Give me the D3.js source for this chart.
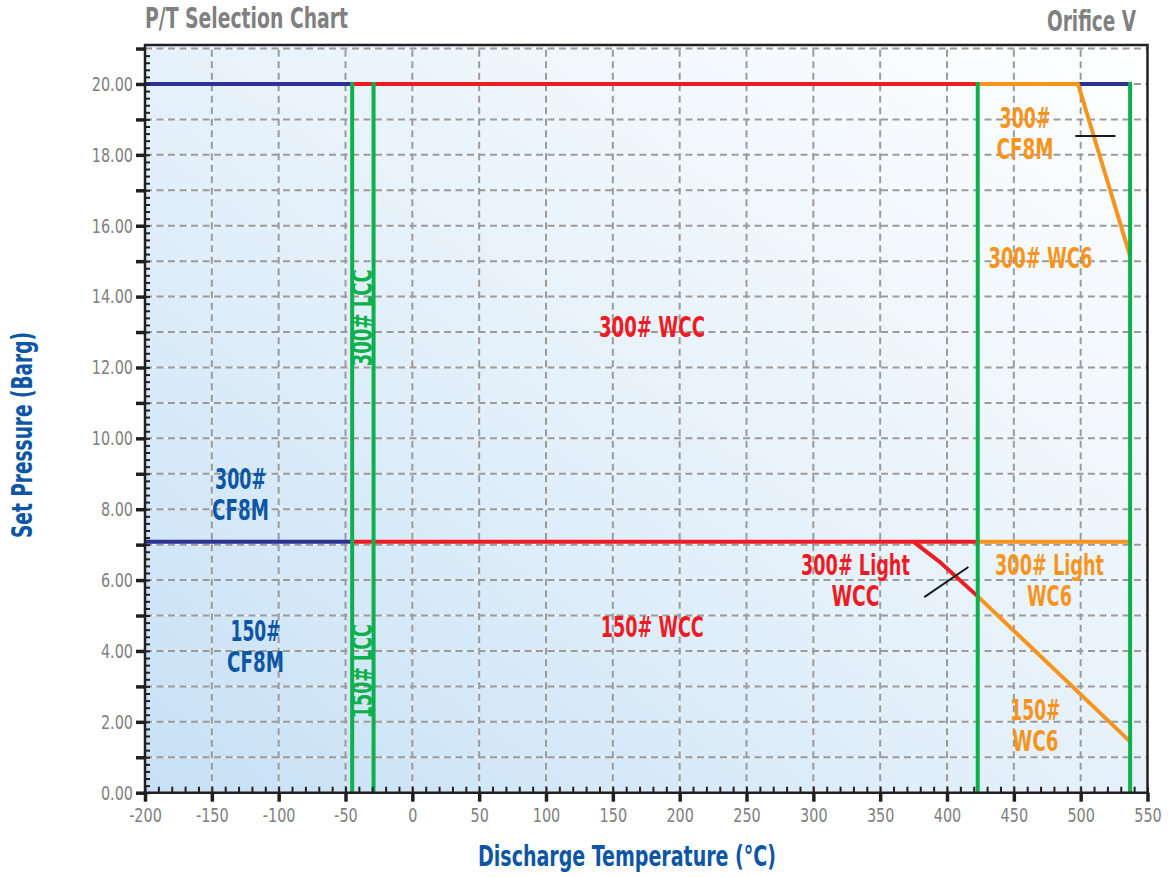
<!DOCTYPE html>
<html>
<head>
<meta charset="utf-8">
<script src="https://cdn.jsdelivr.net/npm/d3@7"></script>
<style>
  html, body { margin: 0; padding: 0; background: #ffffff; }
  svg { display: block; }
</style>
</head>
<body>
<svg id="chart" width="1171" height="877"></svg>
<script>
// ---- Axis ticks --------------------------------------------------------
const xTickValues = [-200, -150, -100, -50, 0, 50, 100, 150, 200, 250, 300, 350, 400, 450, 500, 550];
const yTickValues = [0, 2, 4, 6, 8, 10, 12, 14, 16, 18, 20];
const xDomain = [-200, 550];
const yDomain = [0, 21.1];

// ---- Rating boundaries: [temperature °C, set pressure barg] ------------
const cf8mTop      = [[-200, 20], [-45, 20]];
const cf8mLow      = [[-200, 7.08], [-45, 7.08]];
const cf8mTopRight = [[498, 20], [537, 20]];
const wccTop       = [[-45, 20], [423, 20]];
const wccLow       = [[-45, 7.08], [423, 7.08]];
const wccLight     = [[375, 7.08], [394, 6.53], [423, 5.54]];
const wc6Top       = [[423, 20], [498, 20], [537, 15.14]];
const wc6Low       = [[423, 7.08], [537, 7.08]];
const wc6Class150  = [[423, 5.54], [537, 1.44]];

// Material temperature limits (vertical lines) and their pressure span
const limitTemps    = [-45, -29, 423, 537];
const limitPressure = [0, 20];

// Short break marks across the boundaries
const breakMarks = [
  [[496, 18.53], [526, 18.53]],
  [[383, 5.52], [416, 6.37]]
];

// Region names, anchored at [temperature, pressure]
const regionLabels = [
  { lines: ["300#", "CF8M"],       t: -128.5, p: 8.56,  widths: [51, 57],  kind: "cf8m" },
  { lines: ["150#", "CF8M"],       t: -117.3, p: 4.28,  widths: [50, 57],  kind: "cf8m" },
  { lines: ["300# WCC"],           t: 179.3,  p: 12.86, widths: [106],     kind: "wcc" },
  { lines: ["150# WCC"],           t: 179.5,  p: 4.40,  widths: [103],     kind: "wcc" },
  { lines: ["300# Light", "WCC"],  t: 331.5,  p: 6.14,  widths: [109, 48], kind: "wcc" },
  { lines: ["300#", "CF8M"],       t: 458.4,  p: 18.75, widths: [51, 57],  kind: "wc6" },
  { lines: ["300# WC6"],           t: 469.9,  p: 14.80, widths: [104],     kind: "wc6" },
  { lines: ["300# Light", "WC6"],  t: 476.7,  p: 6.14,  widths: [109, 45], kind: "wc6" },
  { lines: ["150#", "WC6"],        t: 466.1,  p: 2.05,  widths: [50, 46],  kind: "wc6" }
];
const limitLabels = [
  { text: "300# LCC", t: -30.3, p: 13.40, width: 97 },
  { text: "150# LCC", t: -30.3, p: 3.43,  width: 94 }
];

// ---- Styling -----------------------------------------------------------
const FONT = "'Liberation Sans Narrow', 'Arial Narrow', 'DejaVu Sans Condensed', sans-serif";
const colors = {
  cf8m: "#0d56a5",
  cf8mLine: "#2e3192",
  wcc: "#ed1c24",
  wc6: "#f7941d",
  lcc: "#0db04b",
  grey: "#808080",
  grid: "#9b9b9b",
  axis: "#231f20"
};
const margin = { top: 45, right: 23.5, bottom: 84.3, left: 145 };
const width = 1171, height = 877;
const innerW = width - margin.left - margin.right;
const innerH = height - margin.top - margin.bottom;
const lineGap = 31;
const tickSqueeze = 0.8;

const svg = d3.select("#chart");

const x = d3.scaleLinear().domain(xDomain).range([margin.left, margin.left + innerW]);
const y = d3.scaleLinear().domain(yDomain).range([margin.top + innerH, margin.top]);

// Plot background: soft blue fading to white towards the upper right
const defs = svg.append("defs");
const grad = defs.append("linearGradient")
  .attr("id", "plotBg")
  .attr("x1", "0%").attr("y1", "100%")
  .attr("x2", "100%").attr("y2", "0%");
grad.append("stop").attr("offset", "0%").attr("stop-color", "#c6e0f5");
grad.append("stop").attr("offset", "45%").attr("stop-color", "#e3f0fa");
grad.append("stop").attr("offset", "100%").attr("stop-color", "#ffffff");

svg.append("rect")
  .attr("x", margin.left).attr("y", margin.top)
  .attr("width", innerW).attr("height", innerH)
  .attr("fill", "url(#plotBg)");

// Grid: faint white rules under grey dashes
const gridX = xTickValues.slice(1, -1);
const gridY = d3.range(1, 22, 1);
const grid = svg.append("g");
[["#ffffff", null, 1, 0.7], [colors.grid, "7,4.5", 2, 1]].forEach(([stroke, dash, w, op]) => {
  const g = grid.append("g")
    .attr("stroke", stroke).attr("stroke-width", w).attr("opacity", op)
    .attr("stroke-dasharray", dash);
  g.selectAll("line.v").data(gridX).join("line").attr("class", "v")
    .attr("x1", d => x(d)).attr("x2", d => x(d))
    .attr("y1", y(0)).attr("y2", margin.top);
  g.selectAll("line.h").data(gridY).join("line").attr("class", "h")
    .attr("x1", x(xDomain[0])).attr("x2", x(xDomain[1]))
    .attr("y1", d => y(d)).attr("y2", d => y(d));
});

// Boundary lines
const line = d3.line().x(d => x(d[0])).y(d => y(d[1]));
const boundaries = [
  [cf8mTop, colors.cf8mLine], [cf8mLow, colors.cf8mLine], [cf8mTopRight, colors.cf8mLine],
  [wccTop, colors.wcc], [wccLow, colors.wcc], [wccLight, colors.wcc],
  [wc6Top, colors.wc6], [wc6Low, colors.wc6], [wc6Class150, colors.wc6]
];
svg.append("g").selectAll("path").data(boundaries).join("path")
  .attr("d", d => line(d[0]))
  .attr("fill", "none")
  .attr("stroke", d => d[1])
  .attr("stroke-width", 4)
  .attr("stroke-linejoin", "round");

// Temperature limits
svg.append("g").selectAll("line").data(limitTemps).join("line")
  .attr("x1", d => x(d)).attr("x2", d => x(d))
  .attr("y1", y(limitPressure[0])).attr("y2", y(limitPressure[1]) - 2)
  .attr("stroke", colors.lcc).attr("stroke-width", 4);

// Break marks
svg.append("g").selectAll("path").data(breakMarks).join("path")
  .attr("d", d => line(d))
  .attr("stroke", "#1a1a1a").attr("stroke-width", 2).attr("fill", "none");

// ---- Axes --------------------------------------------------------------
const fmt = d3.format(".2f");
const yAxis = d3.axisLeft(y)
  .tickValues(d3.range(0, 22, 1))
  .tickSize(9).tickPadding(3)
  .tickFormat(d => yTickValues.includes(d) ? fmt(d) : "");
const yMinor = d3.axisRight(y)
  .tickValues(d3.range(0, 105, 1).map(i => i * 0.2))
  .tickSize(5).tickFormat("");
const xAxis = d3.axisBottom(x)
  .tickValues(xTickValues)
  .tickSize(9).tickPadding(6)
  .tickFormat(d => String(d));   // plain hyphen for negatives
const xMinor = d3.axisTop(x)
  .tickValues(d3.range(-200, 551, 10))
  .tickSize(6).tickFormat("");

function styleAxis(g, tickWidth) {
  g.select(".domain").remove();
  g.selectAll(".tick line").attr("stroke", colors.axis).attr("stroke-width", tickWidth);
  g.selectAll(".tick text")
    .attr("fill", colors.grey)
    .style("font-family", FONT)
    .style("font-size", "20px")
    .each(function () {
      // narrow the glyphs horizontally while keeping the anchor in place
      const t = d3.select(this);
      const x0 = +t.attr("x") || 0;
      t.attr("x", x0 / tickSqueeze).attr("transform", `scale(${tickSqueeze},1)`);
    });
}

svg.append("g").attr("transform", `translate(${margin.left},0)`).call(yMinor).call(g => styleAxis(g, 2));
svg.append("g").attr("transform", `translate(0,${y(0)})`).call(xMinor).call(g => styleAxis(g, 2));
svg.append("g").attr("transform", `translate(${margin.left},0)`).call(yAxis).call(g => styleAxis(g, 3.5));
svg.append("g").attr("transform", `translate(0,${y(0)})`).call(xAxis).call(g => styleAxis(g, 3.5));

// Frame
svg.append("path")
  .attr("d", `M${x(xDomain[0])},${margin.top} V${y(0)} H${x(xDomain[1])} V${margin.top} Z`)
  .attr("fill", "none").attr("stroke", colors.axis).attr("stroke-width", 2.5);

// ---- Text --------------------------------------------------------------
function label(sel, text, px, py, opts) {
  const t = sel.append("text")
    .attr("x", px).attr("y", py)
    .attr("text-anchor", opts.anchor || "middle")
    .attr("fill", opts.color)
    .style("font-family", FONT)
    .style("font-weight", opts.weight || "bold")
    .style("font-size", (opts.size || 28) + "px")
    .text(text);
  if (opts.width) t.attr("textLength", opts.width).attr("lengthAdjust", "spacingAndGlyphs");
  if (opts.rotate) t.attr("transform", `rotate(${opts.rotate},${px},${py})`);
  return t;
}

const labels = svg.append("g");
regionLabels.forEach(r => {
  r.lines.forEach((ln, i) => {
    label(labels, ln, x(r.t), y(r.p) + i * lineGap, { color: colors[r.kind], width: r.widths[i] });
  });
});
limitLabels.forEach(l => {
  label(labels, l.text, x(l.t), y(l.p), { color: colors.lcc, width: l.width, rotate: -90 });
});

// Titles
label(svg, "P/T Selection Chart", margin.left, 28.3, { color: colors.grey, anchor: "start", width: 203 });
label(svg, "Orifice V", 1136, 30.7, { color: colors.grey, anchor: "end", width: 89 });
label(svg, "Discharge Temperature (°C)", 627, 866, { color: colors.cf8m, width: 298 });
label(svg, "Set Pressure (Barg)", 32, 435, { color: colors.cf8m, width: 206, rotate: -90 });
</script>
</body>
</html>
